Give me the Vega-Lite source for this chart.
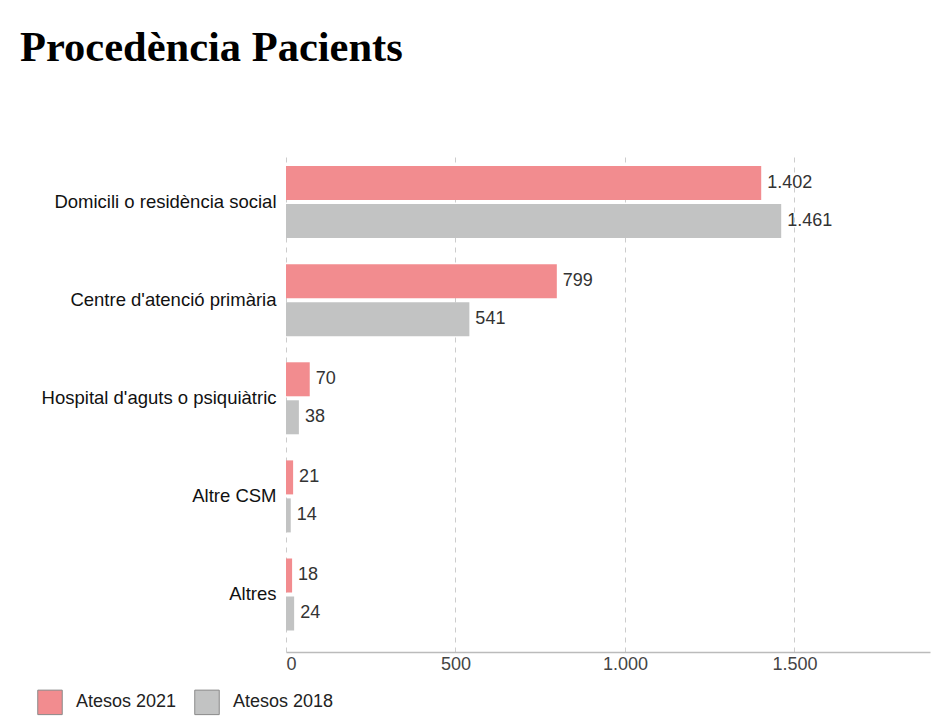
{
  "$schema": "https://vega.github.io/schema/vega-lite/v6.json",
  "width": 644,
  "height": 497,
  "autosize": {"type": "none"},
  "padding": {"left": 286, "top": 155, "right": 21, "bottom": 76},
  "background": "white",
  "title": {
    "text": "Procedència Pacients",
    "anchor": "start",
    "frame": "group",
    "font": "Liberation Serif",
    "fontSize": 42.5,
    "fontWeight": "bold",
    "color": "#000000",
    "dx": -266,
    "dy": -82
  },
  "config": {
    "view": {"stroke": null},
    "locale": {
      "number": {"decimal": ",", "thousands": ".", "grouping": [3], "currency": ["", " €"]}
    },
    "font": "Liberation Sans"
  },
  "data": {
    "values": [
      {"categoria": "Domicili o residència social", "serie": "Atesos 2021", "valor": 1402},
      {"categoria": "Domicili o residència social", "serie": "Atesos 2018", "valor": 1461},
      {"categoria": "Centre d'atenció primària", "serie": "Atesos 2021", "valor": 799},
      {"categoria": "Centre d'atenció primària", "serie": "Atesos 2018", "valor": 541},
      {"categoria": "Hospital d'aguts o psiquiàtric", "serie": "Atesos 2021", "valor": 70},
      {"categoria": "Hospital d'aguts o psiquiàtric", "serie": "Atesos 2018", "valor": 38},
      {"categoria": "Altre CSM", "serie": "Atesos 2021", "valor": 21},
      {"categoria": "Altre CSM", "serie": "Atesos 2018", "valor": 14},
      {"categoria": "Altres", "serie": "Atesos 2021", "valor": 18},
      {"categoria": "Altres", "serie": "Atesos 2018", "valor": 24}
    ]
  },
  "encoding": {
    "y": {
      "field": "categoria",
      "type": "nominal",
      "sort": ["Domicili o residència social", "Centre d'atenció primària", "Hospital d'aguts o psiquiàtric", "Altre CSM", "Altres"],
      "scale": {"paddingInner": 0.266, "paddingOuter": 0.166, "align": 0.34},
      "axis": {
        "title": null,
        "domain": false,
        "ticks": false,
        "labelPadding": 10,
        "labelFontSize": 18.5,
        "labelColor": "#111111",
        "labelLimit": 300
      }
    },
    "yOffset": {
      "field": "serie",
      "type": "nominal",
      "sort": ["Atesos 2021", "Atesos 2018"],
      "scale": {"paddingInner": 0.105}
    },
    "x": {
      "field": "valor",
      "type": "quantitative",
      "scale": {"domain": [0, 1900], "nice": false},
      "axis": {
        "title": null,
        "values": [0, 500, 1000, 1500],
        "format": ",d",
        "ticks": false,
        "domainColor": "#bbbbbb",
        "domainWidth": 1.5,
        "gridColor": "#cccccc",
        "gridDash": [5, 5],
        "gridWidth": 1,
        "labelFontSize": 18,
        "labelColor": "#444444",
        "labelPadding": 3
      }
    }
  },
  "layer": [
    {
      "mark": {"type": "bar"},
      "encoding": {
        "color": {
          "field": "serie",
          "type": "nominal",
          "scale": {"domain": ["Atesos 2021", "Atesos 2018"], "range": ["#f28c8f", "#c2c3c3"]},
          "legend": {
            "title": null,
            "orient": "none",
            "direction": "horizontal",
            "legendX": -249,
            "legendY": 534,
            "symbolType": "square",
            "symbolSize": 600,
            "symbolStrokeColor": "#8a8a8a",
            "symbolStrokeWidth": 1,
            "symbolOpacity": 1,
            "labelFontSize": 18,
            "labelColor": "#222222",
            "labelOffset": 13,
            "columnPadding": 15
          }
        }
      }
    },
    {
      "mark": {"type": "text", "align": "left", "baseline": "middle", "dx": 6, "fontSize": 18, "color": "#333333"},
      "encoding": {
        "text": {"field": "valor", "type": "quantitative", "format": ",d"}
      }
    }
  ]
}
